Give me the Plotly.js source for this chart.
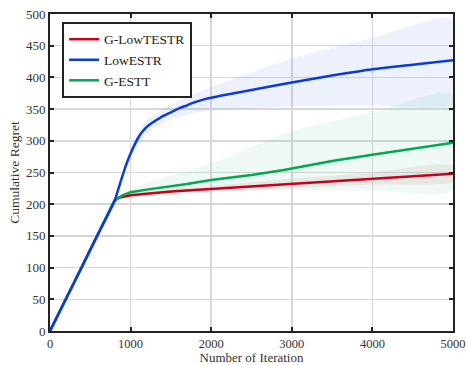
<!DOCTYPE html>
<html><head><meta charset="utf-8">
<script src="https://cdn.plot.ly/plotly-3.0.1.min.js"></script>
<style>body{margin:0;background:#fff}#c{width:466px;height:365px}</style>
</head><body><div id="c"></div>
<script>
// Series names
const names = ["G-LowTESTR", "LowESTR", "G-ESTT"];

// LowESTR (blue)
const blueX = [0,200,400,600,800,850,900,950,1000,1050,1100,1150,1200,1250,1300,1400,1500,1600,1700,1800,1900,2000,2200,2500,3000,3500,4000,4500,5000];
const blueY = [0,51,102,154,205,225,245,264,280,294,306,315,322,327,331,339,345,351,356,361,365,368,373,380,392,403,413,420,427];
const blueBandX = [800,1000,1200,1500,2000,3000,4000,5000];
const blueUp = [207,290,333,357,385,430,462,493];
const blueLo = [205,272,312,334,348,354,356,358];

// G-LowTESTR (red)
const redX = [0,200,400,600,800,850,1000,1500,2000,2500,3000,3500,4000,4500,5000];
const redY = [0,51,102,154,205,210,214,220,224,228,232,237,241,245,248];
const redBandX = [800,1000,2000,3000,4000,5000];
const redUp = [207,217,229,240,250,261];
const redLo = [205,211,219,225,231,236];

// G-ESTT (green)
const greenX = [0,200,400,600,800,900,1000,1200,1500,1700,2000,2500,2900,3100,3500,4000,4500,5000];
const greenY = [0,51,102,154,206,214,219,223,228,232,238,246,254,259,268,278,288,297];
const greenBandX = [800,1000,1500,2000,2500,3000,4000,5000];
const greenUp = [207,225,245,265,290,315,345,375];
const greenLo = [205,212,218,220,221,222,222,222];

// Axis ticks
const xTicks = [0,1000,2000,3000,4000,5000];
const yTicks = [0,50,100,150,200,250,300,350,400,450,500];

function band(x, up, lo, color){
  return {x: x.concat(x.slice().reverse()), y: up.concat(lo.slice().reverse()),
    type:'scatter', mode:'lines', fill:'toself', fillcolor:color,
    line:{width:0, color:'rgba(0,0,0,0)', shape:'spline', smoothing:0.6}, hoverinfo:'skip', showlegend:false};
}
const cRed = 'rgb(200,0,25)', cBlue = 'rgb(10,60,215)', cGreen = 'rgb(0,168,80)';
const data = [
  band(blueBandX, blueUp, blueLo, 'rgba(110,150,235,0.13)'),
  band(greenBandX, greenUp, greenLo, 'rgba(120,205,180,0.13)'),
  band(redBandX, redUp, redLo, 'rgba(190,140,140,0.16)'),
  {x: redX, y: redY, type:'scatter', mode:'lines', name:names[0], legendrank:1, line:{color:cRed, width:2.5}},
  {x: greenX, y: greenY, type:'scatter', mode:'lines', name:names[2], legendrank:3, line:{color:cGreen, width:2.5}},
  {x: blueX, y: blueY, type:'scatter', mode:'lines', name:names[1], legendrank:2, line:{color:cBlue, width:2.5, shape:'spline', smoothing:0.8}}
];
const ff = '"Liberation Serif", "Times New Roman", serif';
const layout = {
  width:466, height:365,
  margin:{l:50, r:13, t:14, b:34},
  paper_bgcolor:'#fff', plot_bgcolor:'#fff',
  font:{family:ff, color:'#333', size:13},
  showlegend:true,
  legend:{x:0.03, y:0.975, xanchor:'left', yanchor:'top', bgcolor:'#fff', bordercolor:'#222', borderwidth:2,
    font:{family:ff, size:13.5, color:'#222'}, tracegroupgap:0, itemwidth:30},
  xaxis:{range:[0,5000], tickvals:xTicks, ticktext:xTicks.map(String), showgrid:true, gridcolor:'rgb(215,215,215)', gridwidth:1.5,
    showline:true, linecolor:'#222', linewidth:2, mirror:'ticks', ticks:'inside', ticklen:4, tickwidth:2, tickcolor:'#222',
    zeroline:false, automargin:false, tickfont:{family:ff, size:12.5, color:'#333'},
    title:{text:'Number of Iteration', font:{family:ff, size:13, color:'#333'}, standoff:3}},
  yaxis:{range:[0,500], tickvals:yTicks, ticktext:yTicks.map(String), showgrid:true, gridcolor:'rgb(215,215,215)', gridwidth:1.5,
    showline:true, linecolor:'#222', linewidth:2, mirror:'ticks', ticks:'inside', ticklen:4, tickwidth:2, tickcolor:'#222',
    zeroline:false, automargin:false, tickfont:{family:ff, size:13, color:'#333'},
    title:{text:'Cumulative Regret', font:{family:ff, size:13.5, color:'#333'}, standoff:3}}
};
Plotly.newPlot('c', data, layout, {displayModeBar:false, staticPlot:true});
</script></body></html>
